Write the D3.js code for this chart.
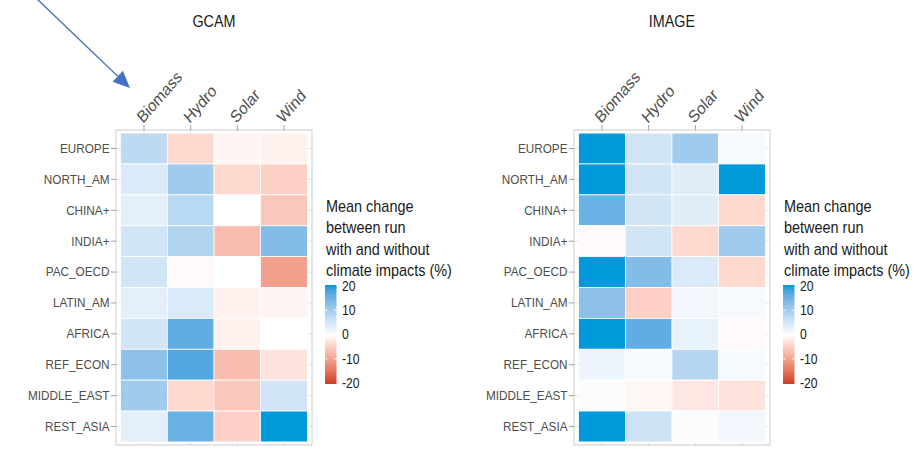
<!DOCTYPE html>
<html>
<head>
<meta charset="utf-8">
<script src="https://cdn.jsdelivr.net/npm/d3@7"></script>
<style>
  body { margin: 0; background: #fff; }
  svg { display: block; }
  text { font-family: "Liberation Sans", Arial, sans-serif; }
</style>
</head>
<body>
<div id="chart"></div>
<script>
// data (rows = regions, columns = techs)
const regions = ["EUROPE", "NORTH_AM", "CHINA+", "INDIA+", "PAC_OECD", "LATIN_AM", "AFRICA", "REF_ECON", "MIDDLE_EAST", "REST_ASIA"];
const techs = ["Biomass", "Hydro", "Solar", "Wind"];

const gcamValues = [
    [7, -4, -1, -1.5],
    [4, 10, -4, -5],
    [3, 7.5, 0, -6],
    [5, 8.5, -7, 13],
    [5, -0.5, 0, -10],
    [3, 4, -1.5, -1],
    [5, 16, -1.5, 0],
    [12, 17, -7, -3],
    [10, -4, -6, 5],
    [3, 15, -5, 20]
];
const imageValues = [
    [20, 5, 10, 1],
    [20, 5, 3.5, 20],
    [15, 5, 3.5, -4],
    [-0.5, 5, -4, 10],
    [20, 13, 4, -4],
    [12, -5, 1.5, 1],
    [20, 16, 2.5, -0.5],
    [2, 1, 8, 1],
    [0.5, -0.8, -2.5, -3],
    [20, 5.5, 0.5, 1.5]
];
const panelTitles = ["GCAM", "IMAGE"];
const legendTicks = [20, 10, 0, -10, -20];
const legendTitle = ["Mean change", "between run", "with and without", "climate impacts (%)"];

const width = 923, height = 454;
// the reference is squeezed sideways, so draw wider and squash with the viewBox
const squeeze = 0.87;
const sx = v => v / squeeze;

const svg = d3.select("#chart").append("svg")
    .attr("width", width)
    .attr("height", height)
    .attr("viewBox", `0 0 ${width / squeeze} ${height}`)
    .attr("preserveAspectRatio", "none");

const color = d3.scaleLinear()
    .domain([-20, 0, 20])
    .range(["#cf3a28", "#ffffff", "#0099da"])
    .interpolate(d3.interpolateLab)
    .clamp(true);

const x = d3.scaleBand().domain(techs).range([sx(116), sx(312)]).paddingInner(0).paddingOuter(0.1);
const y = d3.scaleBand().domain(regions).range([130, 445]).paddingInner(0).paddingOuter(0.1);

// gradient for the colour bar
const grad = svg.append("defs").append("linearGradient")
    .attr("id", "bar").attr("x1", 0).attr("x2", 0).attr("y1", 0).attr("y2", 1);
d3.range(0, 1.0001, 0.05).forEach(t => {
    grad.append("stop").attr("offset", t).attr("stop-color", color(20 - 40 * t));
});

function drawPanel(title, values, dx) {
    const g = svg.append("g").attr("transform", `translate(${sx(dx)},0)`);
    const [x0, x1] = x.range(), [y0, y1] = y.range();

    // grid lines (peek out around the tiles)
    g.append("g").selectAll("line").data(regions).join("line")
        .attr("x1", x0).attr("x2", x1)
        .attr("y1", d => y(d) + y.bandwidth() / 2).attr("y2", d => y(d) + y.bandwidth() / 2)
        .attr("stroke", "#e3e3e3");
    g.append("g").selectAll("line").data(techs).join("line")
        .attr("y1", y0).attr("y2", y1)
        .attr("x1", d => x(d) + x.bandwidth() / 2).attr("x2", d => x(d) + x.bandwidth() / 2)
        .attr("stroke", "#e3e3e3");

    const cells = values.flatMap((row, i) => row.map((v, j) => ({region: regions[i], tech: techs[j], v: v})));
    g.append("g").selectAll("rect").data(cells).join("rect")
        .attr("x", d => x(d.tech))
        .attr("y", d => y(d.region))
        .attr("width", x.bandwidth())
        .attr("height", y.bandwidth())
        .attr("fill", d => color(d.v))
        .attr("stroke", "#fff")
        .attr("stroke-width", 0.8);

    // panel border
    g.append("rect")
        .attr("x", x0).attr("y", y0)
        .attr("width", x1 - x0).attr("height", y1 - y0)
        .attr("fill", "none")
        .attr("stroke", "#c9c9c9");

    // y axis
    const yAxis = g.append("g")
        .attr("transform", `translate(${x0},0)`)
        .call(d3.axisLeft(y).tickSize(sx(5)).tickPadding(sx(1.5)));
    yAxis.select(".domain").remove();
    yAxis.selectAll("line").attr("stroke", "#9a9a9a");
    yAxis.selectAll("text").attr("font-size", 13.5).attr("fill", "#4d4d4d").attr("font-family", null);

    // x axis on top, rotated labels
    const xAxis = g.append("g")
        .attr("transform", `translate(0,${y0})`)
        .call(d3.axisTop(x).tickSize(5));
    xAxis.select(".domain").remove();
    xAxis.selectAll("line").attr("stroke", "#9a9a9a");
    xAxis.selectAll("text")
        .attr("x", 0).attr("y", 0).attr("dy", 0)
        .attr("text-anchor", "start")
        .attr("transform", `translate(${sx(-1)},-6) rotate(-45)`)
        .attr("font-size", 17)
        .attr("fill", "#4d4d4d")
        .attr("font-family", null);

    // title
    g.append("text")
        .attr("x", (x0 + x1) / 2).attr("y", 27)
        .attr("text-anchor", "middle")
        .attr("font-size", 16.5)
        .attr("fill", "#1a1a1a")
        .text(title);

    // legend
    const leg = g.append("g").attr("transform", `translate(${sx(326)},0)`);
    leg.selectAll("text.t").data(legendTitle).join("text")
        .attr("class", "t")
        .attr("x", 0)
        .attr("y", (d, i) => 212 + i * 21.5)
        .attr("font-size", 16.6)
        .attr("fill", "#1a1a1a")
        .text(d => d);

    const ly = d3.scaleLinear().domain([20, -20]).range([286, 383]);
    leg.append("rect")
        .attr("x", sx(-1)).attr("y", 285)
        .attr("width", sx(11.5)).attr("height", 99)
        .attr("fill", "url(#bar)");
    leg.selectAll("line.k").data(legendTicks.slice(1, -1)).join("line")
        .attr("class", "k")
        .attr("x1", sx(-1)).attr("x2", sx(1.5))
        .attr("y1", d => ly(d)).attr("y2", d => ly(d))
        .attr("stroke", "#fff");
    leg.selectAll("line.k2").data(legendTicks.slice(1, -1)).join("line")
        .attr("class", "k2")
        .attr("x1", sx(8)).attr("x2", sx(10.5))
        .attr("y1", d => ly(d)).attr("y2", d => ly(d))
        .attr("stroke", "#fff");
    leg.selectAll("text.l").data(legendTicks).join("text")
        .attr("class", "l")
        .attr("x", sx(16))
        .attr("y", d => ly(d))
        .attr("dy", "0.35em")
        .attr("font-size", 14)
        .attr("fill", "#1a1a1a")
        .text(d => d);
}

drawPanel(panelTitles[0], gcamValues, 0);
drawPanel(panelTitles[1], imageValues, 458);

// pointer arrow in the top left corner
const arrowFrom = [36, -2], arrowTip = [130, 88];
const len = Math.hypot(arrowTip[0] - arrowFrom[0], arrowTip[1] - arrowFrom[1]);
const ux = (arrowTip[0] - arrowFrom[0]) / len, uy = (arrowTip[1] - arrowFrom[1]) / len;
const base = [arrowTip[0] - 17 * ux, arrowTip[1] - 17 * uy];
svg.append("line")
    .attr("x1", sx(arrowFrom[0])).attr("y1", arrowFrom[1])
    .attr("x2", sx(base[0])).attr("y2", base[1])
    .attr("stroke", "#4472c4")
    .attr("stroke-width", 1.5);
svg.append("polygon")
    .attr("points", [
        [arrowTip[0], arrowTip[1]],
        [base[0] - 7.5 * uy, base[1] + 7.5 * ux],
        [base[0] + 7.5 * uy, base[1] - 7.5 * ux]
    ].map(p => `${sx(p[0])},${p[1]}`).join(" "))
    .attr("fill", "#4472c4");
</script>
</body>
</html>
